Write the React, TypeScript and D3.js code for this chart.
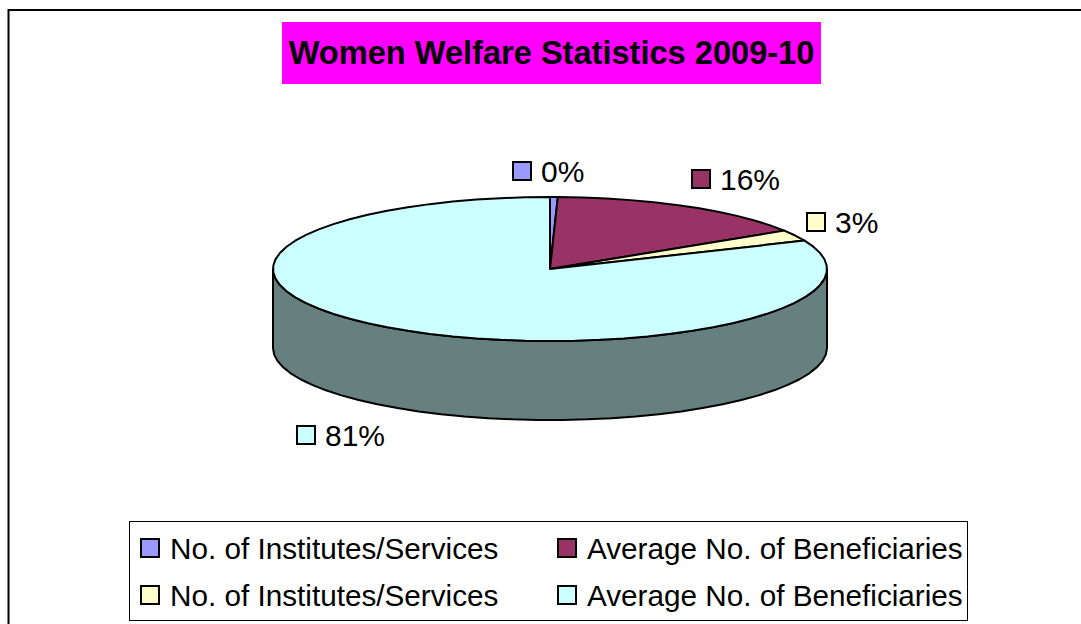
import React from "react";
import * as d3 from "d3";

const categories = [
  "No. of Institutes/Services",
  "Average No. of Beneficiaries",
  "No. of Institutes/Services",
  "Average No. of Beneficiaries",
];
const values = [0.45, 15.6, 2.5, 81.45];
const labels = ["0%", "16%", "3%", "81%"];
const colors = ["#9999ff", "#993366", "#ffffcc", "#ccffff"];
const sideColor = "#668080";
const title = "Women Welfare Statistics 2009-10";

const width = 1081;
const height = 624;
const cx = 550;
const cy = 269;
const rx = 277;
const ry = 72;
const depth = 79;
const font = "'Liberation Sans', Arial, sans-serif";

// where each data label sits (swatch left, swatch top)
const labelPos = [
  [512, 161],
  [691, 169],
  [806, 212],
  [296, 425],
];
const legendPos = [
  [140, 538],
  [557, 538],
  [140, 585],
  [557, 585],
];

// the pie outline in the original is a coarse polygon, so sample it in steps
const STEP = 0.09;
function rim(a0: number, a1: number, dy = 0): [number, number][] {
  const n = Math.max(1, Math.ceil(Math.abs(a1 - a0) / STEP));
  return d3.range(n + 1).map((i) => {
    const a = a0 + ((a1 - a0) * i) / n;
    return [cx + rx * Math.sin(a), cy + dy - ry * Math.cos(a)];
  });
}

export default function App() {
  const slices = d3.pie<number>().sort(null).value((d) => d)(values);
  const line = d3.line();
  const side =
    line([
      ...rim(Math.PI * 0.5, Math.PI * 1.5),
      ...rim(Math.PI * 1.5, Math.PI * 0.5, depth),
    ]) + "Z";

  return (
    <svg
      width={width}
      height={height}
      style={{ position: "absolute", left: 0, top: 0, fontFamily: font }}
    >
      <rect x={0} y={0} width={width} height={height} fill="#fff" />
      <path d={`M8.5,${height} V10 H${width}`} fill="none" stroke="#000" strokeWidth={2} />

      <rect x={282} y={22} width={539} height={62} fill="#ff00ff" />
      <text x={551.5} y={64} textAnchor="middle" fontSize={32.6} fontWeight="bold" fill="#000">
        {title}
      </text>

      <path d={side} fill={sideColor} stroke="#000" strokeWidth={2} strokeLinejoin="round" />
      {slices.map((s, i) => (
        <path
          key={i}
          d={line([[cx, cy], ...rim(s.startAngle, s.endAngle)]) + "Z"}
          fill={colors[i]}
          stroke="#000"
          strokeWidth={2}
          strokeLinejoin="round"
        />
      ))}

      {labels.map((l, i) => (
        <g key={i}>
          <rect
            x={labelPos[i][0] + 1}
            y={labelPos[i][1] + 1}
            width={18}
            height={18}
            fill={colors[i]}
            stroke="#000"
            strokeWidth={2}
          />
          <text x={labelPos[i][0] + 29} y={labelPos[i][1] + 21} fontSize={30} fill="#000">
            {l}
          </text>
        </g>
      ))}

      <rect x={129.5} y={521.5} width={838} height={99} fill="#fff" stroke="#000" strokeWidth={1} />
      {categories.map((c, i) => (
        <g key={i}>
          <rect
            x={legendPos[i][0] + 1}
            y={legendPos[i][1] + 1}
            width={18}
            height={18}
            fill={colors[i]}
            stroke="#000"
            strokeWidth={2}
          />
          <text x={legendPos[i][0] + 30} y={legendPos[i][1] + 20.5} fontSize={29.7} fill="#000">
            {c}
          </text>
        </g>
      ))}
    </svg>
  );
}
